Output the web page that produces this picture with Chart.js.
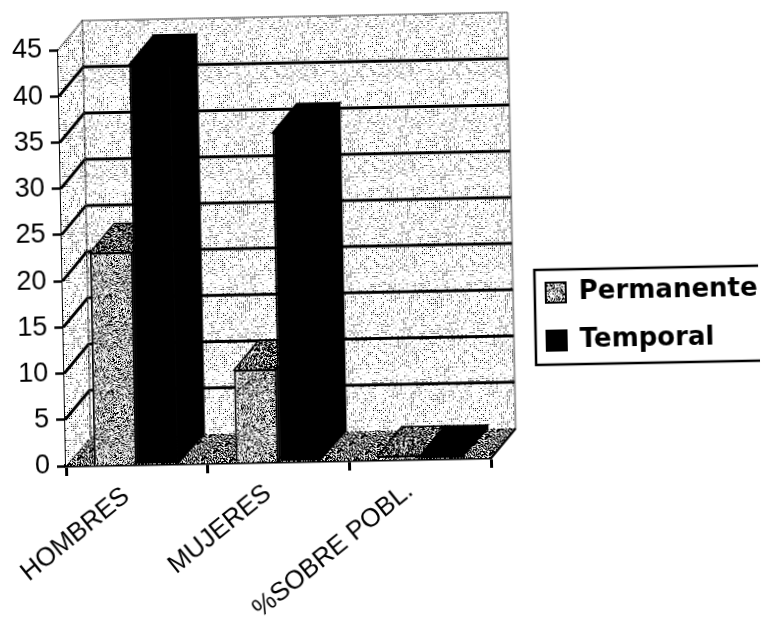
<!DOCTYPE html>
<html><head><meta charset="utf-8">
<script src="https://cdn.jsdelivr.net/npm/chart.js@4"></script>
<style>
html,body{margin:0;padding:0;background:#fff;overflow:hidden;width:762px;height:620px}
#wrap{position:absolute;left:0;top:0;width:762px;height:620px;transform-origin:66px 466px;transform:rotate(-1.1deg)}
canvas{display:block}
</style></head><body>
<div id="wrap"><canvas id="c" width="762" height="620"></canvas></div>
<script>
const categories = ['HOMBRES', 'MUJERES', '%SOBRE POBL.'];
const permanente = [23, 10, 0.4];
const temporal = [43.3, 35.6, 0.4];
const yTicksMax = 45;
const yTicksStep = 5;

function dither(dark, mid, seed, cell) {
  const n = 96, cv = document.createElement('canvas');
  cv.width = cv.height = n;
  const g = cv.getContext('2d');
  g.fillStyle = '#fff'; g.fillRect(0, 0, n, n);
  let s = seed;
  for (let y = 0; y < n; y += cell) for (let x = 0; x < n; x += cell) {
    s = (s * 1103515245 + 12345) & 0x7fffffff;
    const r = ((s >> 8) & 1023) / 1023;
    if (r < dark) { g.fillStyle = '#000'; g.fillRect(x, y, 1, 1); }
    else if (r < dark + mid) { g.fillStyle = '#aaa'; g.fillRect(x, y, 1, 1); }
  }
  return g.createPattern(cv, 'repeat');
}
const wallFill = dither(0.24, 0.24, 11, 2);
const sideFill = dither(0.26, 0.16, 23, 2);
const floorFill = dither(0.5, 0.25, 37, 1);
const permFill = dither(0.26, 0.34, 53, 1);
const permTop = dither(0.55, 0.2, 71, 1);

const DX = 25, DY = -29;

function poly(ctx, pts, fill, stroke, lw) {
  ctx.beginPath();
  pts.forEach((p, i) => i ? ctx.lineTo(p[0], p[1]) : ctx.moveTo(p[0], p[1]));
  ctx.closePath();
  if (fill) { ctx.fillStyle = fill; ctx.fill(); }
  if (stroke) { ctx.strokeStyle = stroke; ctx.lineWidth = lw; ctx.stroke(); }
}

const threeD = {
  id: 'threeD',
  afterLayout(chart) {
    const l = chart.legend;
    l.left = 527; l.right = 762; l.top = 267; l.bottom = 400;
  },
  beforeDatasetsDraw(chart) {
    const ctx = chart.ctx, xs = chart.scales.x, ys = chart.scales.y;
    const L = xs.left, R = xs.right, B = ys.getPixelForValue(0), T = ys.getPixelForValue(yTicksMax);
    ctx.save();
    poly(ctx, [[L + DX, T + DY], [R + DX, T + DY], [R + DX, B + DY], [L + DX, B + DY]], wallFill);
    poly(ctx, [[L, T], [L + DX, T + DY], [L + DX, B + DY], [L, B]], sideFill);
    poly(ctx, [[L, B], [R, B], [R + DX, B + DY], [L + DX, B + DY]], floorFill);
    ctx.strokeStyle = '#000';
    ctx.lineWidth = 3;
    ys.ticks.forEach(t => {
      if (t.value <= 0 || t.value >= yTicksMax) return;
      const y = ys.getPixelForValue(t.value);
      ctx.beginPath();
      ctx.moveTo(L, y); ctx.lineTo(L + DX, y + DY); ctx.lineTo(R + DX, y + DY);
      ctx.stroke();
    });
    ctx.lineWidth = 2; ctx.setLineDash([1, 1]); ctx.strokeStyle = '#333';
    ctx.beginPath();
    ctx.moveTo(L, T); ctx.lineTo(L + DX, T + DY); ctx.lineTo(R + DX, T + DY); ctx.lineTo(R + DX, B + DY);
    ctx.moveTo(L + DX, T + DY); ctx.lineTo(L + DX, B + DY);
    ctx.stroke();
    ctx.setLineDash([]);
    ctx.lineWidth = 2.5; ctx.strokeStyle = '#000';
    ctx.beginPath(); ctx.moveTo(R, B); ctx.lineTo(R + DX, B + DY); ctx.stroke();
    chart.data.datasets.forEach((ds, di) => {
      chart.getDatasetMeta(di).data.forEach(b => {
        const l = b.x - b.width / 2, r = b.x + b.width / 2, t = b.y, bs = b.base;
        const side = di ? '#000' : '#555';
        const top = di ? '#000' : permTop;
        poly(ctx, [[r - 2, t], [r + DX, t + DY], [r + DX, bs + DY], [r - 2, bs]], side, '#000', 1.5);
        poly(ctx, [[l, t], [l + DX, t + DY], [r + DX, t + DY], [r, t]], top, '#000', 1.5);
      });
    });
    ctx.restore();
  },
  afterDraw(chart) {
    const ctx = chart.ctx;
    ctx.save();
    ctx.strokeStyle = '#000'; ctx.lineWidth = 2.5;
    ctx.beginPath();
    ctx.moveTo(790, 279); ctx.lineTo(538, 279); ctx.lineTo(538, 374); ctx.lineTo(790, 374);
    ctx.stroke();
    ctx.restore();
  }
};

new Chart(document.getElementById('c'), {
  type: 'bar',
  data: {
    labels: categories,
    datasets: [
      { label: 'Permanente', data: permanente, backgroundColor: permFill, borderColor: '#000', borderWidth: 2, categoryPercentage: 0.607, barPercentage: 1 },
      { label: 'Temporal', data: temporal, backgroundColor: '#000', borderColor: '#000', borderWidth: 2, categoryPercentage: 0.607, barPercentage: 1 }
    ]
  },
  plugins: [threeD],
  options: {
    responsive: false,
    animation: false,
    layout: { padding: { left: 0, top: 50, bottom: 0, right: 107 } },
    plugins: {
      tooltip: { enabled: false },
      title: { display: false },
      legend: {
        display: true,
        position: 'right',
        align: 'start',
        labels: {
          boxWidth: 20, boxHeight: 20, padding: 22, color: '#000',
          font: { family: '"DejaVu Sans"', weight: 'bold', size: 26 }
        }
      }
    },
    scales: {
      x: {
        afterFit(s) { s.height = 154; },
        border: { color: '#000', width: 3.5 },
        grid: { drawOnChartArea: false, color: '#000', tickColor: '#000', tickLength: 10, tickWidth: 3 },
        ticks: {
          color: '#000', autoSkip: false, minRotation: 38, maxRotation: 38, padding: 6, labelOffset: -11,
          font: { family: '"Liberation Sans"', size: 26 }
        }
      },
      y: {
        min: 0, max: yTicksMax,
        afterFit(s) { s.width = 66; },
        border: { color: '#000', width: 3 },
        grid: { drawOnChartArea: false, color: '#000', tickColor: '#000', tickLength: 9, tickWidth: 2.5 },
        ticks: {
          stepSize: yTicksStep, color: '#000', padding: 7,
          font: { family: '"Liberation Sans"', size: 27 }
        }
      }
    }
  }
});
</script>
</body></html>
